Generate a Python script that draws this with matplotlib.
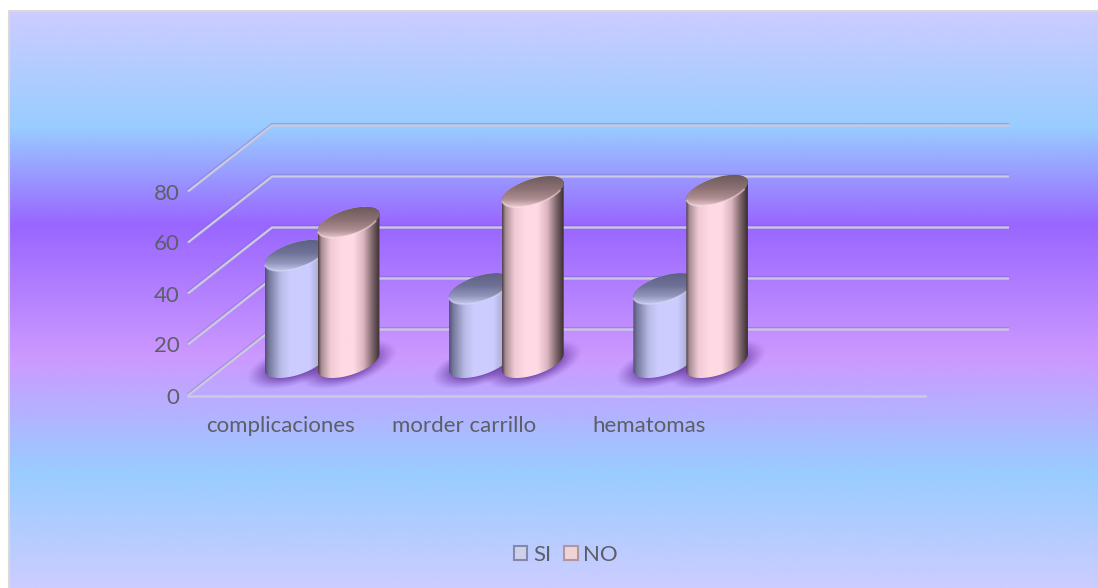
import numpy as np
import matplotlib
matplotlib.use("Agg")
import matplotlib.pyplot as plt
from matplotlib.colors import LinearSegmentedColormap, to_rgb
from matplotlib.patches import Patch, PathPatch
from matplotlib.path import Path

categories = ["complicaciones", "morder carrillo", "hematomas", ""]
si_values = [42, 29, 29]
no_values = [55, 67, 67.5]
y_ticks = [0, 20, 40, 60, 80]

W, H = 1098, 588
TEXT = "#5E5E66"
plt.rcParams["font.family"] = ["Lato", "DejaVu Sans"]

# front wall of the plot in pixels
X0, X1 = 188, 925
Y0, Y80 = 395.5, 191.5
PX_X = (X1 - X0) / 4
PX_Y = (Y0 - Y80) / 80
# depth vector of the floor, in data units
DEPTH = np.array([84 / PX_X, 66 / PX_Y])
# cylinder cross-section axes
U = np.array([26 / PX_X, 0])
V = np.array([16.5 / PX_X, 15.5 / PX_Y])
BAR_OFFSET = 26.5 / PX_X

fig = plt.figure(figsize=(W / 100, H / 100), dpi=100, facecolor="white")

# background panel
bg = fig.add_axes([0, 0, 1, 1])
bg.axis("off")
bg_cmap = LinearSegmentedColormap.from_list("bg", [
    (0.0, "#CCCCFF"), (0.2, "#99CCFF"), (0.37, "#9966FF"),
    (0.6, "#CC99FF"), (0.8, "#99CCFF"), (1.0, "#CCCCFF")])
grad = np.linspace(0, 1, 512).reshape(-1, 1)
bg.imshow(grad, cmap=bg_cmap, extent=(9, W + 2, H, 11), aspect="auto", zorder=1)
bg.plot([8.5, 8.5, W], [H, 10.5, 10.5], color="#D9D9D9", lw=1.5, zorder=2)
bg.set_xlim(0, W)
bg.set_ylim(H, 0)

# chart area: x is the category slot, y the value
ax = fig.add_axes([X0 / W, 1 - Y0 / H, (X1 - X0) / W, (Y0 - Y80) / H])
ax.patch.set_alpha(0)
for s in ax.spines.values():
    s.set_visible(False)
ax.set_xticks(np.arange(4) + 0.5, categories)
ax.set_yticks(y_ticks)
ax.tick_params(length=0, labelsize=16, labelcolor=TEXT)
ax.tick_params(axis="x", pad=15)
ax.tick_params(axis="y", pad=6)

GRID = "#CBC8E2"
for v in y_ticks:
    back = np.array([0, v]) + DEPTH
    xs = [0, back[0], 4 + DEPTH[0]]
    ys = [v, back[1], back[1]]
    ax.plot(xs, np.array(ys) + 0.35, color="#6F6AA8", alpha=0.35, lw=2.4, clip_on=False,
            zorder=1, solid_capstyle="butt", solid_joinstyle="miter")
    ax.plot(xs, ys, color=GRID, lw=1.7, clip_on=False, zorder=1.1,
            solid_capstyle="butt", solid_joinstyle="miter")
ax.plot([0, 4], [0, 0], color=GRID, lw=1.9, clip_on=False, zorder=1.1)


def ring(c, t):
    return c + np.outer(np.cos(t), U) + np.outer(np.sin(t), V)


def draw_shadow(cx, base):
    # soft shadow lying on the floor under a bar
    sx, sy = 2.1 * (U[0] + V[0]), 2.4 * V[1]
    n = 120
    xs = np.linspace(cx - sx, cx + sx, n)
    ys = np.linspace(base - sy, base + sy, n)
    gx, gy = np.meshgrid(xs, ys)
    b = (gy - base + 2.0 / PX_Y) / V[1]
    a = (gx - cx - b * V[0]) / U[0]
    r = np.sqrt(a ** 2 + b ** 2)
    alpha = np.clip((1.6 - r) / 0.75, 0, 1) ** 1.2 * 0.7
    img = np.zeros((n, n, 4))
    img[..., :3] = to_rgb("#5B2E96")
    img[..., 3] = alpha
    ax.imshow(img, extent=(xs[0], xs[-1], ys[0], ys[-1]), origin="lower",
              aspect="auto", zorder=2, interpolation="bilinear")


def draw_bar(cx, base, value, body_colors, top_colors, rim, z):
    t0 = np.arctan2(V[0] * PX_X, U[0] * PX_X)
    c0 = np.array([cx, base])
    c1 = np.array([cx, base + value])

    # body: lower arc of the base, then back along the top
    low = ring(c0, np.linspace(t0 + np.pi, t0 + 2 * np.pi, 60))
    up = ring(c1, np.linspace(t0, t0 + np.pi, 60))
    pts = np.vstack([low, up, low[:1]])
    patch = PathPatch(Path(pts), fc="none", ec="none", zorder=z)
    ax.add_patch(patch)
    half = np.hypot(U[0], V[0])
    cmap = LinearSegmentedColormap.from_list("body", body_colors)
    im = ax.imshow(np.linspace(0, 1, 128).reshape(1, -1), cmap=cmap, aspect="auto",
                   extent=(cx - half, cx + half, base - V[1], base + value + V[1]),
                   zorder=z)
    im.set_clip_box(fig.bbox)
    im.set_clip_path(patch)

    # top face, shaded from its far edge to the near one
    top = ring(c1, np.linspace(0, 2 * np.pi, 120))
    tp = PathPatch(Path(top), fc="none", ec="none", zorder=z + 0.1)
    ax.add_patch(tp)
    tcmap = LinearSegmentedColormap.from_list("top", top_colors)
    tim = ax.imshow(np.linspace(0, 1, 64).reshape(-1, 1), cmap=tcmap, aspect="auto",
                    origin="lower",
                    extent=(cx - half, cx + half, c1[1] - V[1], c1[1] + V[1]),
                    zorder=z + 0.1)
    tim.set_clip_box(fig.bbox)
    tim.set_clip_path(tp)
    arc = ring(c1, np.linspace(t0 + np.pi + 0.15, t0 + 2 * np.pi - 0.5, 40))
    ax.plot(arc[:, 0], arc[:, 1], color=rim, lw=1.2, alpha=0.55, zorder=z + 0.2,
            clip_on=False)


si_body = [(0, "#4F5275"), (0.06, "#74779B"), (0.25, "#B9BBE6"), (0.4, "#CCCCFF"),
           (0.72, "#CCCCFF"), (0.9, "#A6A7CF"), (1, "#6C6D90")]
si_top = [(0, "#C4C6EC"), (0.25, "#9396BC"), (0.6, "#6E7196"), (1, "#5F6184")]
no_body = [(0, "#4E3E42"), (0.05, "#A88C93"), (0.2, "#F0CBD5"), (0.38, "#FFD9E3"),
           (0.58, "#FFD9E3"), (0.74, "#D9B3BD"), (0.88, "#7E666C"), (1, "#3A2E31")]
no_top = [(0, "#EBC6CF"), (0.25, "#AD8D91"), (0.6, "#8B7073"), (1, "#6D5A5C")]

base_y = 0.5 * DEPTH[1]
for i in range(len(si_values)):
    cx = i + 0.5 + 0.5 * DEPTH[0]
    draw_shadow(cx - BAR_OFFSET, base_y)
    draw_shadow(cx + BAR_OFFSET, base_y)
for i, (si, no) in enumerate(zip(si_values, no_values)):
    cx = i + 0.5 + 0.5 * DEPTH[0]
    draw_bar(cx - BAR_OFFSET, base_y, si, si_body, si_top, "#DADBF5", 3)
    draw_bar(cx + BAR_OFFSET, base_y, no, no_body, no_top, "#FBE3E8", 4)

ax.set_xlim(0, 4)
ax.set_ylim(0, 80)

handles = [Patch(fc="#CFD0EA", ec="#8587AD", lw=1.5, label="SI"),
           Patch(fc="#EFD3D6", ec="#B0979C", lw=1.5, label="NO")]
fig.legend(handles=handles, loc="center", bbox_to_anchor=(566 / W, 1 - 555 / H),
           ncol=2, frameon=False, fontsize=16, labelcolor=TEXT, handlelength=0.6,
           handleheight=0.6, handletextpad=0.25, columnspacing=0.6)

fig.savefig("out.png", dpi=100)
